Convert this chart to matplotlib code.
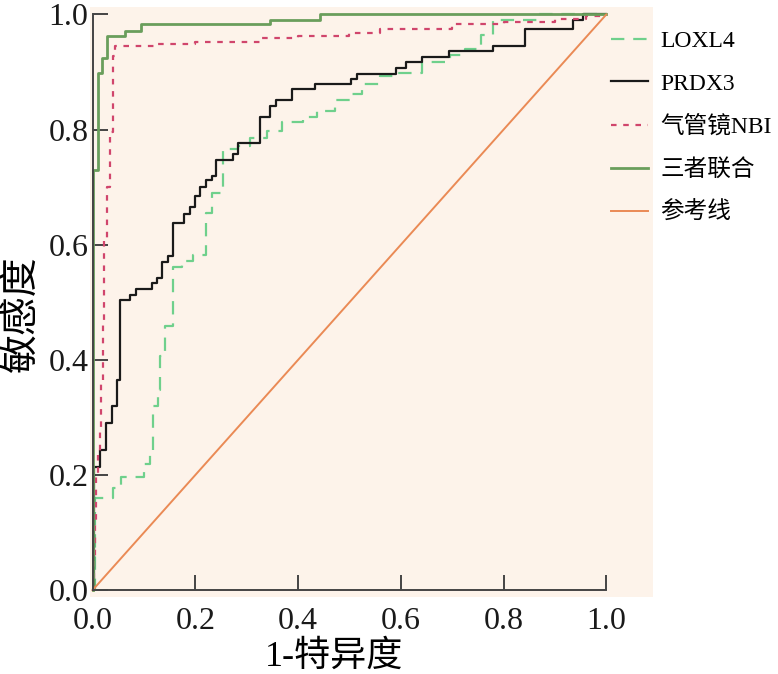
import numpy as np
import matplotlib
matplotlib.use("Agg")
import matplotlib.pyplot as plt

plt.rcParams['font.family'] = ['Liberation Serif', 'Noto Sans CJK SC', 'DejaVu Sans']

# step points (1-specificity, sensitivity)
loxl4_x = [0, 0.004, 0.040, 0.056, 0.100, 0.111, 0.118, 0.127, 0.131, 0.140, 0.157,
           0.175, 0.195, 0.221, 0.232, 0.253, 0.284, 0.306, 0.339, 0.368, 0.410, 0.436,
           0.472, 0.501, 0.524, 0.560, 0.590, 0.641, 0.696, 0.725, 0.757, 0.780, 0.865, 1.0]
loxl4_y = [0, 0.160, 0.177, 0.196, 0.219, 0.234, 0.319, 0.348, 0.406, 0.459, 0.562,
           0.571, 0.583, 0.655, 0.690, 0.766, 0.772, 0.786, 0.797, 0.814, 0.822, 0.832,
           0.851, 0.862, 0.879, 0.894, 0.899, 0.917, 0.930, 0.940, 0.965, 0.991, 1.0, 1.0]

prdx3_x = [0, 0.003, 0.015, 0.026, 0.038, 0.048, 0.054, 0.073, 0.084, 0.115, 0.125,
           0.136, 0.146, 0.156, 0.178, 0.189, 0.199, 0.209, 0.221, 0.232, 0.241, 0.273,
           0.284, 0.326, 0.345, 0.357, 0.389, 0.432, 0.504, 0.515, 0.591, 0.610, 0.642,
           0.694, 0.780, 0.842, 0.936, 0.955, 1.0]
prdx3_y = [0, 0.214, 0.243, 0.290, 0.320, 0.365, 0.504, 0.513, 0.523, 0.534, 0.543,
           0.570, 0.580, 0.637, 0.654, 0.666, 0.684, 0.701, 0.712, 0.720, 0.748, 0.757,
           0.776, 0.822, 0.841, 0.851, 0.870, 0.880, 0.888, 0.897, 0.907, 0.917, 0.926,
           0.936, 0.945, 0.975, 0.990, 1.0, 1.0]

nbi_x = [0, 0.002, 0.004, 0.006, 0.010, 0.014, 0.017, 0.020, 0.023, 0.028, 0.034,
         0.040, 0.044, 0.12, 0.20, 0.326, 0.40, 0.50, 0.56, 0.70, 0.80, 0.90, 0.96, 1.0]
nbi_y = [0, 0.05, 0.12, 0.20, 0.24, 0.284, 0.365, 0.464, 0.609, 0.70, 0.795,
         0.928, 0.945, 0.948, 0.952, 0.960, 0.963, 0.968, 0.975, 0.983, 0.987, 0.992, 0.997, 1.0]

comb_x = [0, 0, 0.010, 0.019, 0.028, 0.063, 0.095, 0.345, 0.443, 1.0]
comb_y = [0, 0.73, 0.899, 0.925, 0.962, 0.971, 0.983, 0.991, 1.0, 1.0]

ref_x = [0, 1]
ref_y = [0, 1]

labels = ['LOXL4', 'PRDX3', '气管镜NBI', '三者联合', '参考线']

fig = plt.figure(figsize=(7.78, 6.74), dpi=100)
ax = fig.add_axes([0.1157, 0.1142, 0.7237, 0.8754])
ax.set_facecolor('#fdf3ea')

ax.plot(loxl4_x, loxl4_y, drawstyle='steps-post', color='#6fd08c', lw=1.6,
        dashes=(6, 4), label=labels[0])
ax.plot(prdx3_x, prdx3_y, drawstyle='steps-post', color='#1a1a1a', lw=1.6,
        label=labels[1])
ax.plot(nbi_x, nbi_y, drawstyle='steps-post', color='#d0456c', lw=1.6,
        dashes=(2.5, 3), label=labels[2])
ax.plot(comb_x, comb_y, drawstyle='steps-post', color='#6a9e5c', lw=2.0,
        label=labels[3])
ax.plot(ref_x, ref_y, color='#ea8a55', lw=1.4, label=labels[4])

ax.set_xlim(-0.005, 1.091)
ax.set_ylim(-0.012, 1.013)

for s in ['top', 'right']:
    ax.spines[s].set_visible(False)
for s in ['left', 'bottom']:
    ax.spines[s].set_position(('data', 0))
    ax.spines[s].set_bounds(0, 1)
    ax.spines[s].set_color('#444444')
    ax.spines[s].set_linewidth(1.4)

ticks = [0.0, 0.2, 0.4, 0.6, 0.8, 1.0]
ax.set_xticks(ticks)
ax.set_yticks(ticks)
ax.set_xticklabels(['%.1f' % t for t in ticks])
ax.set_yticklabels(['%.1f' % t for t in ticks])
ax.tick_params(direction='in', length=11, width=1.4, color='#444444',
               labelsize=23, colors='#1a1a1a')
ax.tick_params(axis='x', pad=12.5)
ax.tick_params(axis='y', pad=3)

ax.set_xlabel('1-特异度', fontsize=26)
ax.set_ylabel('敏感度', fontsize=28)
ax.xaxis.set_label_coords(0.433, -0.073)
ax.yaxis.set_label_coords(-0.085, 0.481)

leg = fig.legend(loc='upper left', bbox_to_anchor=(0.7853, 0.9546), frameon=False,
                 fontsize=17, handlelength=1.55, handletextpad=0.55,
                 labelspacing=0.89, borderpad=0, borderaxespad=0)

fig.savefig('out.png', dpi=100, facecolor='white')
